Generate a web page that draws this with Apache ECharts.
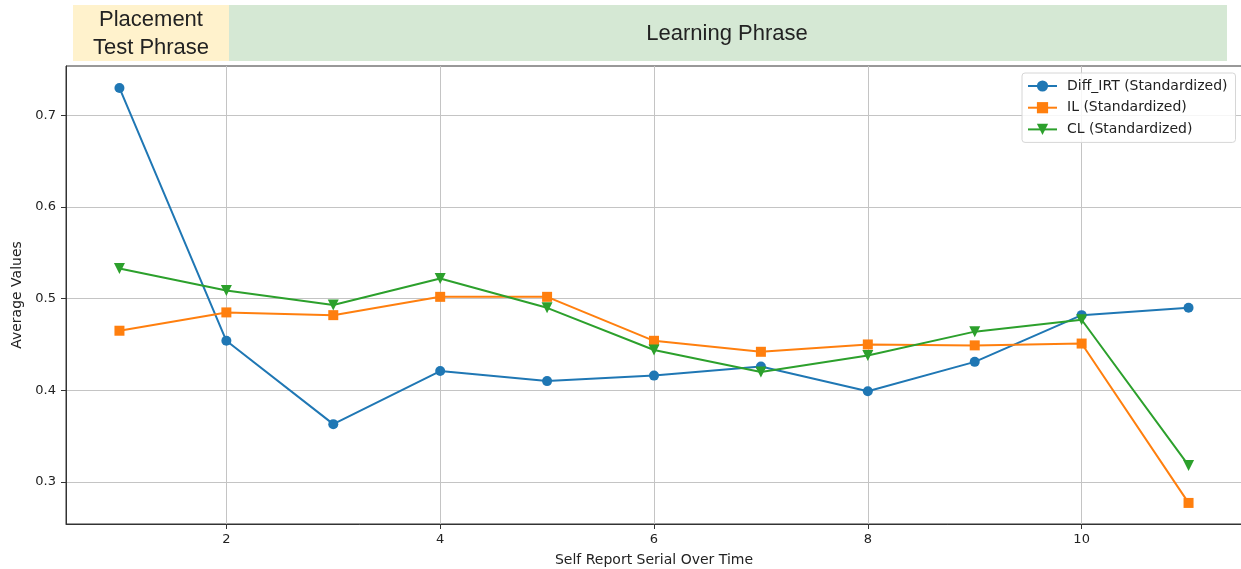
<!DOCTYPE html>
<html>
<head>
<meta charset="utf-8">
<script src="https://cdn.jsdelivr.net/npm/echarts@6/dist/echarts.min.js"></script>
<style>html,body{margin:0;padding:0;background:#fff;}#c{width:1241px;height:569px;}</style>
</head>
<body>
<div id="c"></div>
<script>
const serials = [1, 2, 3, 4, 5, 6, 7, 8, 9, 10, 11];
const diffIRT = [0.730, 0.454, 0.363, 0.421, 0.410, 0.416, 0.426, 0.399, 0.431, 0.482, 0.490];
const ilVals  = [0.465, 0.485, 0.482, 0.502, 0.502, 0.454, 0.442, 0.450, 0.449, 0.451, 0.277];
const clVals  = [0.533, 0.509, 0.493, 0.522, 0.490, 0.444, 0.420, 0.438, 0.464, 0.477, 0.318];
const xTicks = [2, 4, 6, 8, 10];
const yTicks = [0.3, 0.4, 0.5, 0.6, 0.7];
const seriesNames = ['Diff_IRT (Standardized)', 'IL (Standardized)', 'CL (Standardized)'];
const phaseLabels = ['Placement\nTest Phrase', 'Learning Phrase'];

const pairs = arr => serials.map((s, i) => [s, arr[i]]);
const font = 'DejaVu Sans';

const chart = echarts.init(document.getElementById('c'), null, {renderer: 'canvas'});
chart.setOption({
  animation: false,
  backgroundColor: '#ffffff',
  grid: {left: 66, right: -1, top: 66, bottom: 45, show: true, borderColor: '#333', borderWidth: 1,
    containLabel: false, outerBoundsMode: 'none'},
  xAxis: {
    type: 'value', min: 0.5, max: 11.5,
    name: 'Self Report Serial Over Time', nameLocation: 'middle', nameGap: 29,
    nameTextStyle: {fontFamily: font, fontSize: 14, color: '#222'},
    axisLine: {show: true, lineStyle: {color: '#333', width: 1}},
    axisTick: {show: true, length: 5, customValues: xTicks, lineStyle: {color: '#333'}},
    axisLabel: {customValues: xTicks, margin: 9, fontFamily: font, fontSize: 13, color: '#222'},
    splitLine: {show: true, lineStyle: {color: '#c4c4c4', width: 1}}
  },
  yAxis: {
    type: 'value', min: 0.254, max: 0.754,
    name: 'Average Values', nameLocation: 'middle', nameGap: 36, nameRotate: 90,
    nameTextStyle: {fontFamily: font, fontSize: 14, color: '#222'},
    axisLine: {show: true, lineStyle: {color: '#333', width: 1}},
    axisTick: {show: true, length: 5, customValues: yTicks, lineStyle: {color: '#333'}},
    axisLabel: {customValues: yTicks, margin: 10, fontFamily: font, fontSize: 13, color: '#222',
      formatter: v => v.toFixed(1)},
    splitLine: {show: true, lineStyle: {color: '#c4c4c4', width: 1}}
  },
  legend: {
    orient: 'vertical', left: 1022, top: 73,
    padding: [6, 8, 6, 5], itemGap: 7.7, itemWidth: 29, itemHeight: 14,
    backgroundColor: 'rgba(255,255,255,0.85)', borderColor: '#d6d6d6', borderWidth: 1, borderRadius: 3,
    textStyle: {fontFamily: font, fontSize: 14, color: '#222', padding: [0, 0, 0, 5]},
    data: seriesNames
  },
  graphic: [
    {type: 'rect', shape: {x: 73, y: 5, width: 156, height: 56}, style: {fill: '#fff2cc'}},
    {type: 'rect', shape: {x: 229, y: 5, width: 998, height: 56}, style: {fill: '#d5e8d4'}},
    {type: 'text', x: 151, y: 34, style: {text: phaseLabels[0], fontFamily: 'Liberation Sans', fontSize: 22, lineHeight: 28, fill: '#222', align: 'center', verticalAlign: 'middle'}},
    {type: 'text', x: 727, y: 34, style: {text: phaseLabels[1], fontFamily: 'Liberation Sans', fontSize: 22, fill: '#222', align: 'center', verticalAlign: 'middle'}}
  ],
  series: [
    {name: seriesNames[0], type: 'line', data: pairs(diffIRT), symbol: 'circle', symbolSize: 10,
      itemStyle: {color: '#1f77b4'}, lineStyle: {color: '#1f77b4', width: 2}},
    {name: seriesNames[1], type: 'line', data: pairs(ilVals), symbol: 'rect', symbolSize: 10,
      itemStyle: {color: '#ff7f0e'}, lineStyle: {color: '#ff7f0e', width: 2}},
    {name: seriesNames[2], type: 'line', data: pairs(clVals), symbol: 'triangle', symbolRotate: 180, symbolSize: 11,
      itemStyle: {color: '#2ca02c'}, lineStyle: {color: '#2ca02c', width: 2}}
  ]
});
</script>
</body>
</html>
